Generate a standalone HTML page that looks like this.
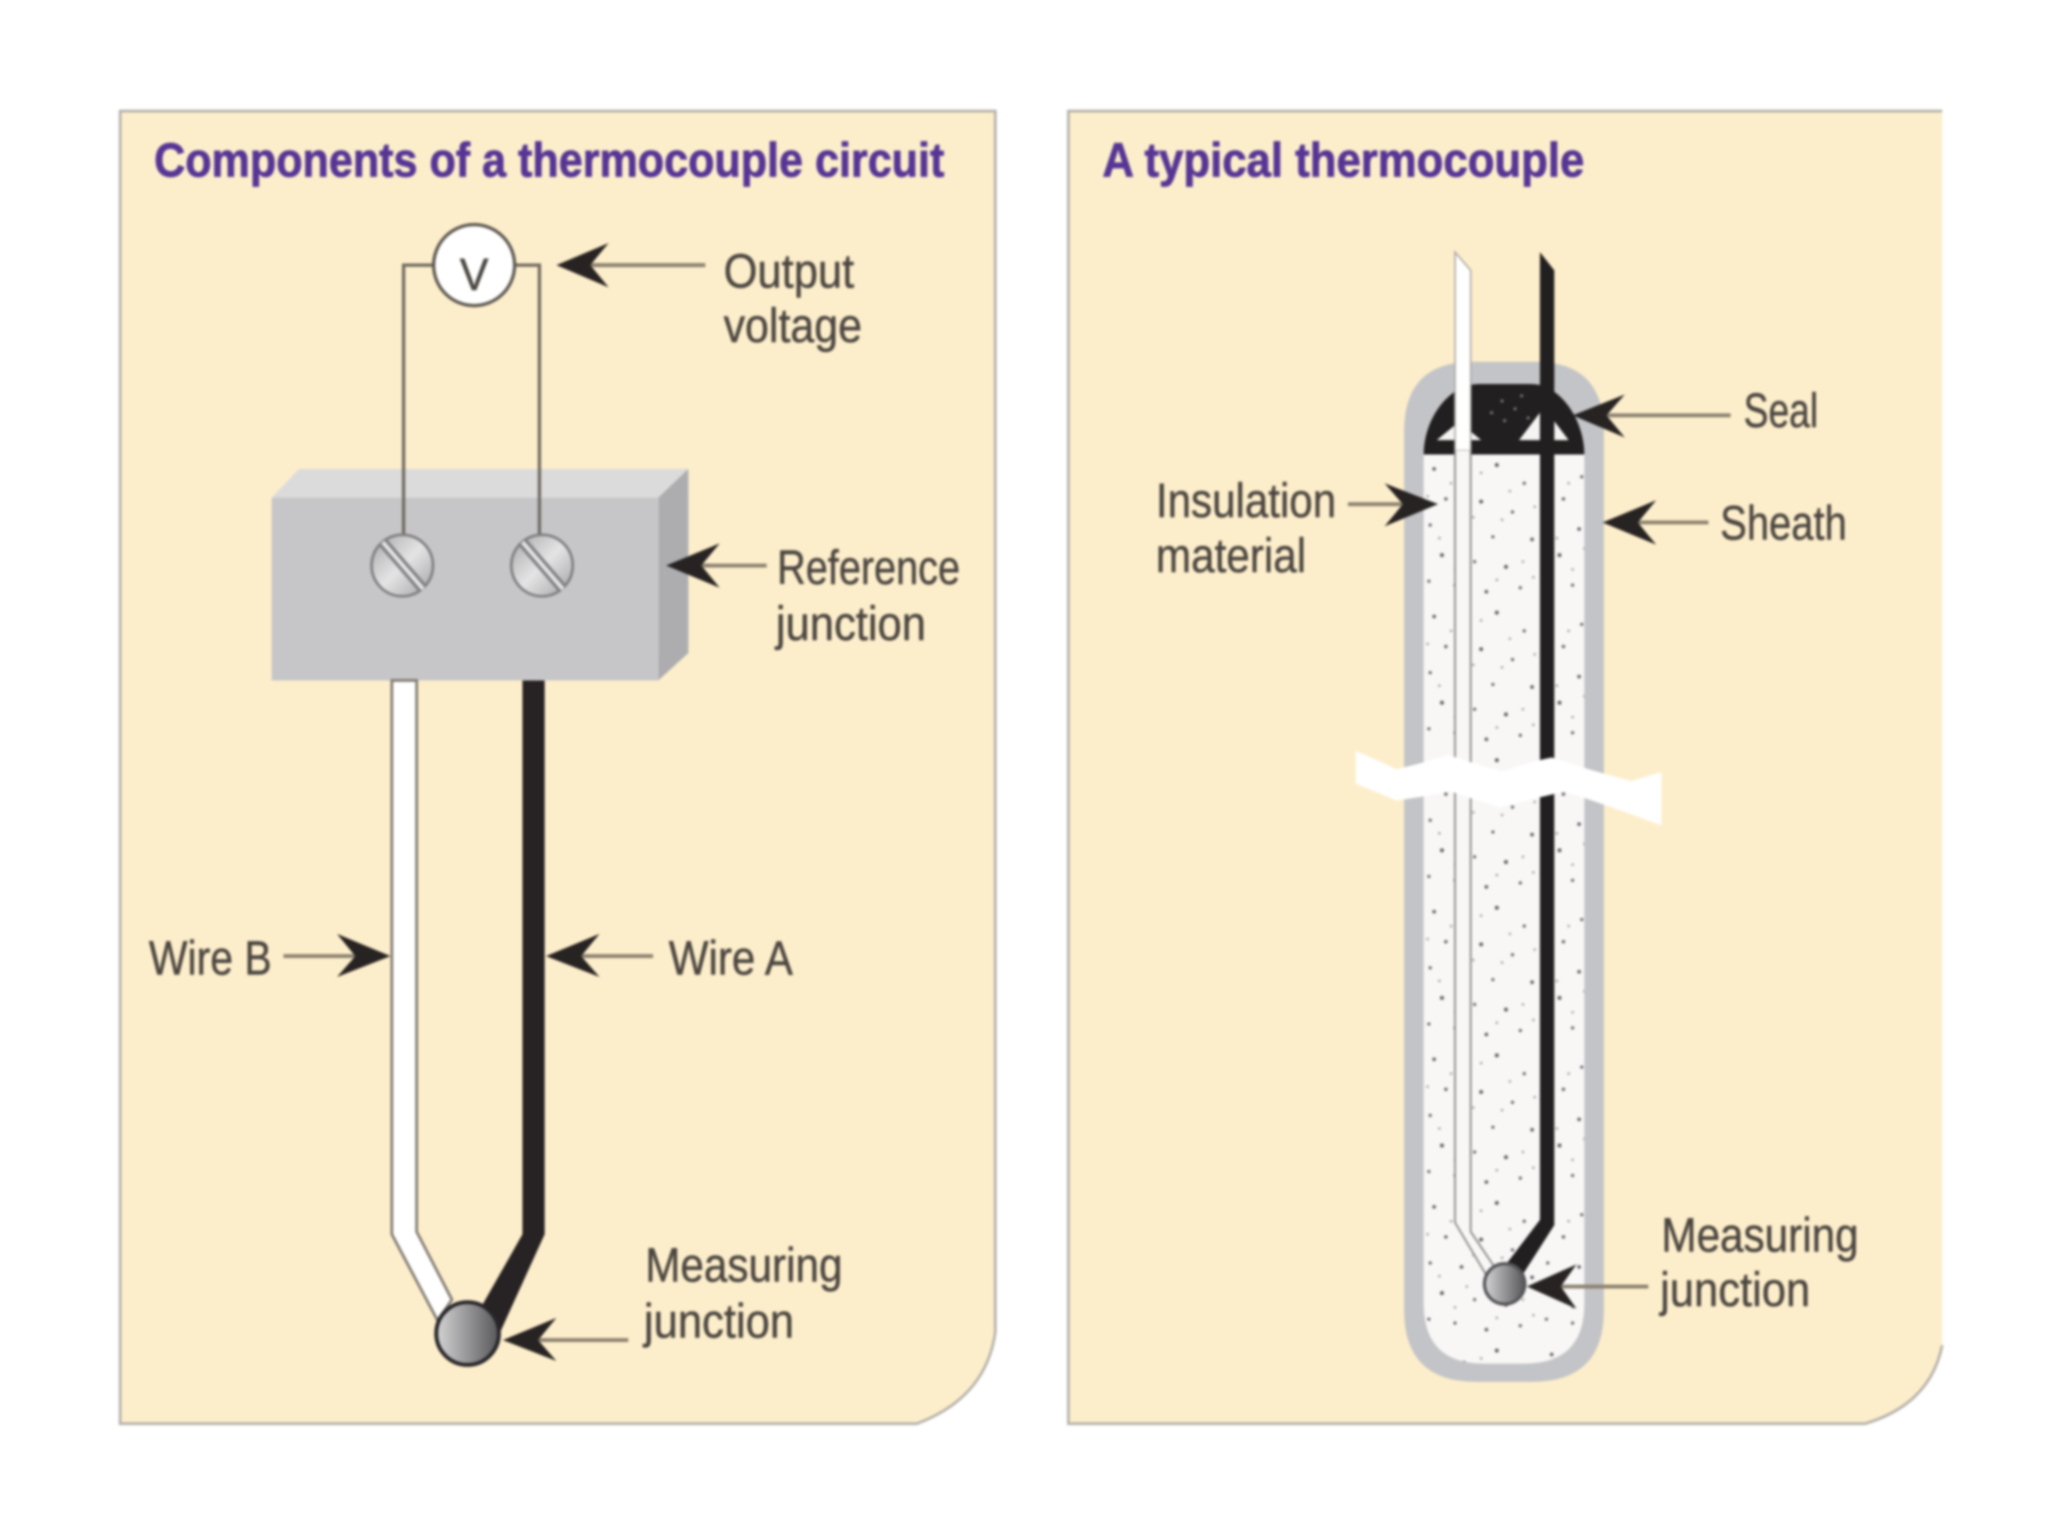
<!DOCTYPE html>
<html>
<head>
<meta charset="utf-8">
<style>
html,body{margin:0;padding:0;background:#fff;width:2048px;height:1536px;overflow:hidden}
svg{display:block}
text{font-family:"Liberation Sans",sans-serif;font-size:37px;fill:#4b4640;stroke:#4b4640;stroke-width:.35px}
.t{font-weight:bold;fill:#563595;stroke:#563595;stroke-width:.6px}
.ln{stroke:#8b8270;stroke-width:3;fill:none}
.hd{fill:#272322}
</style>
</head>
<body>
<svg width="2048" height="1536" viewBox="0 0 1568 1176" xmlns="http://www.w3.org/2000/svg">
<defs>
<filter id="b" x="0" y="0" width="100%" height="100%" color-interpolation-filters="sRGB"><feGaussianBlur stdDeviation="1"/></filter>
<linearGradient id="sc" x1="0" y1="0" x2="1" y2="1"><stop offset="0" stop-color="#a5a5a7"/><stop offset=".5" stop-color="#e4e4e5"/><stop offset="1" stop-color="#a0a0a2"/></linearGradient>
<linearGradient id="j" x1="0" y1="0" x2="1" y2="0"><stop offset="0" stop-color="#d4d4d5"/><stop offset="1" stop-color="#57575a"/></linearGradient>
<pattern id="sp" width="90" height="113" patternUnits="userSpaceOnUse" patternTransform="translate(1090 350)">
<rect width="90" height="113" fill="#f9f7f6"/>
<g fill="#5f5d62">
<circle cx="8" cy="9" r="1.4"/><circle cx="31" cy="15" r="1.2"/><circle cx="56" cy="6" r="1.5"/><circle cx="77" cy="20" r="1.2"/>
<circle cx="17" cy="32" r="1.3"/><circle cx="44" cy="34" r="1.5"/><circle cx="68" cy="42" r="1.2"/><circle cx="5" cy="52" r="1.2"/>
<circle cx="29" cy="55" r="1.4"/><circle cx="53" cy="61" r="1.2"/><circle cx="83" cy="63" r="1.4"/><circle cx="14" cy="75" r="1.5"/>
<circle cx="39" cy="80" r="1.2"/><circle cx="63" cy="84" r="1.5"/><circle cx="24" cy="98" r="1.2"/><circle cx="48" cy="103" r="1.4"/><circle cx="74" cy="100" r="1.2"/><circle cx="4" cy="95" r="1.2"/>
</g>
<g fill="#a4a2a5">
<circle cx="21" cy="20" r="1"/><circle cx="66" cy="26" r="1"/><circle cx="38" cy="46" r="1"/><circle cx="76" cy="80" r="1"/><circle cx="12" cy="62" r="1"/><circle cx="56" cy="94" r="1"/><circle cx="33" cy="70" r="1"/><circle cx="44" cy="12" r="1"/><circle cx="85" cy="38" r="1"/><circle cx="60" cy="48" r="1"/><circle cx="3" cy="30" r="1"/><circle cx="24" cy="86" r="1"/><circle cx="84" cy="92" r="1"/>
</g>
</pattern>
</defs>
<g filter="url(#b)">
<rect width="1568" height="1176" fill="#fff"/>

<!-- Panels -->
<path d="M92,85 H762 V1020 Q755,1070 702,1090 H92 Z" fill="#fdeecb" stroke="#b3afa8" stroke-width="2"/>
<path d="M1487,85 H818 V1090 H1428 Q1480,1075 1487,1030 Z" fill="#fdeecb"/>
<path d="M1487,85 H818 V1090 H1428 Q1478,1075 1487,1030" fill="none" stroke="#b3afa8" stroke-width="2"/>

<text class="t" x="118" y="135" textLength="605" lengthAdjust="spacingAndGlyphs">Components of a thermocouple circuit</text>
<text class="t" x="844" y="135" textLength="369" lengthAdjust="spacingAndGlyphs">A typical thermocouple</text>

<!-- Box -->
<polygon points="208,381 229,359 527,359 504,381" fill="#dcdbdc"/>
<polygon points="504,381 527,359 527,500 504,521" fill="#adadb0"/>
<rect x="208" y="381" width="296" height="140" fill="#c6c6c9"/>

<!-- Thin circuit wires -->
<path d="M332,203 H309 V412" fill="none" stroke="#6e695f" stroke-width="2.5"/>
<path d="M394,203 H413 V412" fill="none" stroke="#6e695f" stroke-width="2.5"/>
<circle cx="363" cy="203" r="31" fill="#fff" stroke="#5c5850" stroke-width="2.5"/>
<text x="352" y="222" textLength="22" lengthAdjust="spacingAndGlyphs" style="font-size:35px">V</text>

<!-- Screws -->
<g stroke="#7d7d80" stroke-width="2">
<circle cx="308" cy="433" r="23.5" fill="url(#sc)"/>
<circle cx="415" cy="433" r="23.5" fill="url(#sc)"/>
</g>
<g fill="none">
<path d="M293,415 L324,451" stroke="#818184" stroke-width="8"/>
<path d="M293,415 L324,451" stroke="#e5e5e6" stroke-width="3"/>
<path d="M400,415 L431,451" stroke="#818184" stroke-width="8"/>
<path d="M400,415 L431,451" stroke="#e5e5e6" stroke-width="3"/>
</g>

<!-- Wires left -->
<path d="M300,521 V945 L335,1011 L346,995 L319,943 V521 Z" fill="#fff" stroke="#7c776e" stroke-width="2"/>
<path d="M400,521 H417 V945 L382,1022 L362,1012 L400,945 Z" fill="#272223"/>
<circle cx="358" cy="1021" r="24" fill="url(#j)" stroke="#28262a" stroke-width="3"/>

<!-- Sheath -->
<path d="M1075,330 Q1075,277 1128,277 H1175 Q1228,277 1228,330 V1003 Q1228,1058 1173,1058 H1130 Q1075,1058 1075,1003 Z" fill="#c3c4c7"/>
<path d="M1090,345 H1213 V998 Q1213,1044 1167,1044 H1136 Q1090,1044 1090,998 Z" fill="url(#sp)"/>

<!-- Seal -->
<path d="M1090,348 C1090,322 1108,294 1133,294 H1172 C1195,294 1213,322 1213,348 Z" fill="#221f20"/>
<g fill="#f6f4f2">
<polygon points="1100,337 1117,323 1134,337"/>
<polygon points="1163,337 1182,312 1201,337"/>
</g>
<g fill="#77757a">
<circle cx="1150" cy="307" r="1.2"/><circle cx="1160" cy="313" r="1.2"/><circle cx="1142" cy="316" r="1.2"/><circle cx="1152" cy="322" r="1.2"/><circle cx="1165" cy="303" r="1.2"/><circle cx="1170" cy="320" r="1.2"/>
</g>

<!-- Wires right -->
<path d="M1114,193 L1126,207 V345 H1114 Z" fill="#fff" stroke="#a9a7a3" stroke-width="1.2"/>
<path d="M1114,345 V936 L1142,983 H1153 L1126,943 V345" fill="#f9f7f6" stroke="#8c8a86" stroke-width="1.4"/>
<path d="M1179,193 L1190,207 V938 L1160,985 L1150,972 L1179,934 Z" fill="#221f20"/>
<circle cx="1152" cy="983" r="15.5" fill="url(#j)" stroke="#55555a" stroke-width="2.5"/>

<!-- Break -->
<path d="M1038,575 Q1055,582 1069,589 Q1090,584 1109,578 Q1130,585 1150,591 Q1168,584 1188,580 Q1218,590 1249,598 L1272,591 V632 Q1235,618 1198,606 Q1172,612 1148,618 Q1128,612 1111,606 Q1090,610 1069,613 Q1055,607 1038,600 Z" fill="#fff"/>

<!-- Arrows -->
<path class="ln" d="M450,203 H540"/><polygon class="hd" points="426,203 466,186 452,203 466,220"/>
<path class="ln" d="M535,433 H587"/><polygon class="hd" points="510,433 551,416 537,433 551,450"/>
<path class="ln" d="M217,732 H274"/><polygon class="hd" points="299,732 258,715 272,732 258,748"/>
<path class="ln" d="M443,732 H500"/><polygon class="hd" points="418,732 459,715 445,732 459,748"/>
<path class="ln" d="M410,1026 H481"/><polygon class="hd" points="385,1026 426,1009 412,1026 426,1042"/>
<path class="ln" d="M1228,318 H1325"/><polygon class="hd" points="1204,318 1244,302 1230,318 1244,335"/>
<path class="ln" d="M1252,400 H1308"/><polygon class="hd" points="1227,400 1268,383 1254,400 1268,417"/>
<path class="ln" d="M1032,386 H1076"/><polygon class="hd" points="1101,386 1060,370 1074,386 1060,403"/>
<path class="ln" d="M1193,985 H1262"/><polygon class="hd" points="1169,985 1207,968 1195,985 1207,1002"/>

<!-- Labels -->
<text x="554" y="220" textLength="100" lengthAdjust="spacingAndGlyphs">Output</text>
<text x="554" y="262" textLength="106" lengthAdjust="spacingAndGlyphs">voltage</text>
<text x="595" y="447" textLength="140" lengthAdjust="spacingAndGlyphs">Reference</text>
<text x="594" y="490" textLength="115" lengthAdjust="spacingAndGlyphs">junction</text>
<text x="114" y="746" textLength="94" lengthAdjust="spacingAndGlyphs">Wire B</text>
<text x="512" y="746" textLength="95" lengthAdjust="spacingAndGlyphs">Wire A</text>
<text x="494" y="981" textLength="151" lengthAdjust="spacingAndGlyphs">Measuring</text>
<text x="493" y="1024" textLength="115" lengthAdjust="spacingAndGlyphs">junction</text>
<text x="1335" y="327" textLength="57" lengthAdjust="spacingAndGlyphs">Seal</text>
<text x="1317" y="413" textLength="97" lengthAdjust="spacingAndGlyphs">Sheath</text>
<text x="885" y="396" textLength="138" lengthAdjust="spacingAndGlyphs">Insulation</text>
<text x="885" y="438" textLength="115" lengthAdjust="spacingAndGlyphs">material</text>
<text x="1272" y="958" textLength="151" lengthAdjust="spacingAndGlyphs">Measuring</text>
<text x="1271" y="1000" textLength="115" lengthAdjust="spacingAndGlyphs">junction</text>
</g>
</svg>
</body>
</html>
